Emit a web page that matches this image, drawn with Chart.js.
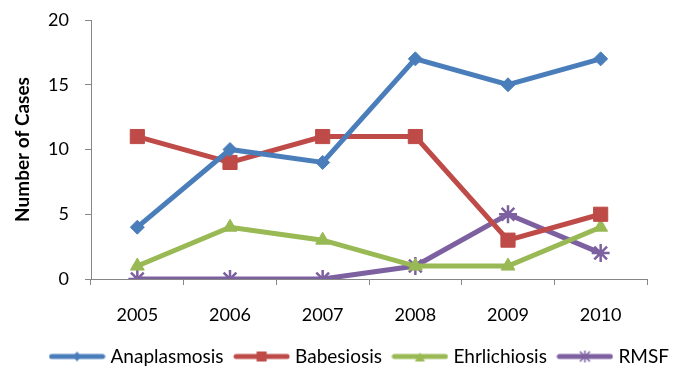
<!DOCTYPE html>
<html>
<head>
<meta charset="utf-8">
<script src="https://cdn.jsdelivr.net/npm/chart.js@4.4.1/dist/chart.umd.min.js"></script>
<style>
  html, body { margin: 0; padding: 0; background: #fff; }
  #wrap { width: 682px; height: 366px; }
</style>
</head>
<body>
<div id="wrap"><canvas id="myChart" width="682" height="366"></canvas></div>
<script>
// datos
const years = ['2005', '2006', '2007', '2008', '2009', '2010'];
const anaplasmosis = [4, 10, 9, 17, 15, 17];
const babesiosis = [11, 9, 11, 11, 3, 5];
const ehrlichiosis = [1, 4, 3, 1, 1, 4];
const rmsf = [0, 0, 0, 1, 5, 2];
const yTicks = [0, 5, 10, 15, 20];

const axisGray = '#868686';
Chart.defaults.font.family = 'Lato, "Open Sans", sans-serif';
Chart.defaults.color = '#000';

// icono de leyenda: linea con marcador pequeño
function legendIcon(color, marker) {
    const c = document.createElement('canvas');
    c.width = 57; c.height = 16;
    const g = c.getContext('2d');
    g.strokeStyle = color; g.fillStyle = color;
    g.lineWidth = 5; g.lineCap = 'round';
    g.beginPath(); g.moveTo(3, 8); g.lineTo(54, 8); g.stroke();
    const cx = 28.5, cy = 8;
    g.beginPath();
    if (marker === 'diamond') {
        g.moveTo(cx, cy - 5); g.lineTo(cx + 4, cy); g.lineTo(cx, cy + 5); g.lineTo(cx - 4, cy); g.fill();
    } else if (marker === 'square') {
        g.fillRect(cx - 5, cy - 5, 10, 10);
    } else if (marker === 'triangle') {
        g.moveTo(cx, cy - 4); g.lineTo(cx + 5, cy + 5); g.lineTo(cx - 5, cy + 5); g.fill();
    } else if (marker === 'star') {
        g.lineWidth = 1.5; g.lineCap = 'butt';
        g.moveTo(cx - 5, cy - 5); g.lineTo(cx + 5, cy + 5);
        g.moveTo(cx + 5, cy - 5); g.lineTo(cx - 5, cy + 5);
        g.moveTo(cx, cy - 6); g.lineTo(cx, cy + 6);
        g.stroke();
    }
    return c;
}

function serie(label, data, color, style, radius, marker) {
    return {
        label: label,
        data: data,
        borderColor: color,
        backgroundColor: color,
        borderWidth: 5,
        pointStyle: style,
        pointRadius: radius,
        pointHoverRadius: radius,
        pointBorderWidth: style === 'star' ? 2.5 : 1,
        pointBorderColor: color,
        pointBackgroundColor: color,
        tension: 0,
        fill: false,
        legendIcon: legendIcon(color, marker)
    };
}

const ctx = document.getElementById('myChart').getContext('2d');
const myChart = new Chart(ctx, {
    type: 'line',
    data: {
        labels: years,
        datasets: [
            serie('Anaplasmosis', anaplasmosis, '#4A7EBB', 'rectRot', 7, 'diamond'),
            serie('Babesiosis', babesiosis, '#BE4B48', 'rect', 10, 'square'),
            serie('Ehrlichiosis', ehrlichiosis, '#98B954', 'triangle', 8, 'triangle'),
            serie('RMSF', rmsf, '#7D60A0', 'star', 9, 'star')
        ]
    },
    options: {
        responsive: false,
        animation: false,
        layout: { padding: { left: 0, right: -40, top: 20, bottom: -10 } },
        plugins: {
            tooltip: { enabled: false },
            legend: {
                position: 'bottom',
                labels: {
                    font: { size: 19 },
                    usePointStyle: true,
                    pointStyleWidth: 48,
                    padding: 14,
                    generateLabels: function (chart) {
                        return chart.data.datasets.map((ds, i) => ({
                            text: ds.label,
                            pointStyle: ds.legendIcon,
                            fillStyle: ds.borderColor,
                            strokeStyle: ds.borderColor,
                            lineWidth: 0,
                            datasetIndex: i
                        }));
                    }
                }
            }
        },
        scales: {
            x: {
                offset: true,
                grid: { drawOnChartArea: false, drawTicks: true, tickLength: 6, color: axisGray, offset: true },
                border: { color: axisGray, width: 1 },
                ticks: { font: { size: 18 }, padding: 19 },
                afterFit: function (scale) { scale.height = 54; }
            },
            y: {
                min: 0,
                max: 20,
                afterBuildTicks: function (scale) { scale.ticks = yTicks.map(v => ({ value: v })); },
                grid: { drawOnChartArea: false, drawTicks: true, tickLength: 6, color: axisGray },
                border: { color: axisGray, width: 1 },
                ticks: { font: { size: 18 }, padding: 16 },
                title: {
                    display: true,
                    text: 'Number of Cases',
                    font: { size: 19, weight: 'bold' },
                    padding: { top: 11, bottom: 0 }
                },
                afterFit: function (scale) {
                    scale.width = 91;
                    // el padding de las etiquetas no debe empujar el area hacia abajo
                    scale.paddingTop = 11;
                    scale.paddingBottom = 11;
                }
            },
            // eje vacio a la derecha, solo para dejar el margen
            margen: {
                position: 'right',
                display: true,
                grid: { display: false },
                border: { display: false },
                ticks: { display: false },
                afterFit: function (scale) { scale.width = 75; }
            }
        }
    }
});
</script>
</body>
</html>
